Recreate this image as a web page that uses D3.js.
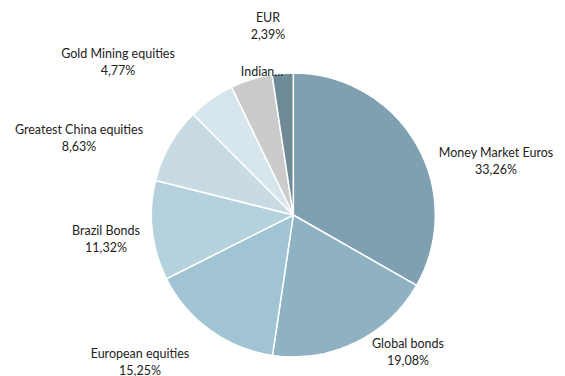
<!DOCTYPE html>
<html>
<head>
<meta charset="utf-8">
<script src="https://cdn.jsdelivr.net/npm/d3@7"></script>
<style>
  html, body { margin: 0; padding: 0; background: #fff; }
  svg { display: block; }
  text { font-family: Lato, "Open Sans", sans-serif; font-size: 12.5px; fill: #222; }
</style>
</head>
<body>
<svg id="chart" width="565" height="376"></svg>
<script>
// ---- data ----
const categories = ["Money Market Euros", "Global bonds", "European equities", "Brazil Bonds",
                    "Greatest China equities", "Indian...", "Gold Mining equities", "EUR"];
const values = [33.26, 19.08, 15.25, 11.32, 8.63, 5.30, 4.77, 2.39];
const valueLabels = ["33,26%", "19,08%", "15,25%", "11,32%", "8,63%", "", "4,77%", "2,39%"];

// ---- layout / style ----
const colors = ["#7fa0b0", "#8fb2c2", "#a0c4d4", "#b5d1dd", "#c8dbe3", "#d7e5ec", "#cbcbcb", "#6e8b97"];
const cx = 293.3, cy = 215, radius = 142;
// label anchor positions (text centre, first line)
const labelPos = [[496, 152], [408, 343], [140, 353], [106, 230], [79, 129], [262, 71], [118, 53], [268, 17]];
const lineGap = 17;

const svg = d3.select("#chart");
const g = svg.append("g").attr("transform", `translate(${cx},${cy})`);

const pie = d3.pie().sort(null).value(d => d);
const arc = d3.arc().innerRadius(0).outerRadius(radius);

g.selectAll("path")
  .data(pie(values))
  .join("path")
  .attr("d", arc)
  .attr("fill", (d, i) => colors[i])
  .attr("stroke", "#fff")
  .attr("stroke-width", 1.5)
  .attr("stroke-linejoin", "round");

const labels = svg.append("g");
categories.forEach((c, i) => {
  const [x, y] = labelPos[i];
  const t = labels.append("text")
    .attr("text-anchor", "middle")
    .attr("dominant-baseline", "central");
  t.append("tspan").attr("x", x).attr("y", y).text(c);
  if (valueLabels[i]) {
    t.append("tspan").attr("x", x).attr("y", y + lineGap).text(valueLabels[i]);
  }
});
</script>
</body>
</html>
